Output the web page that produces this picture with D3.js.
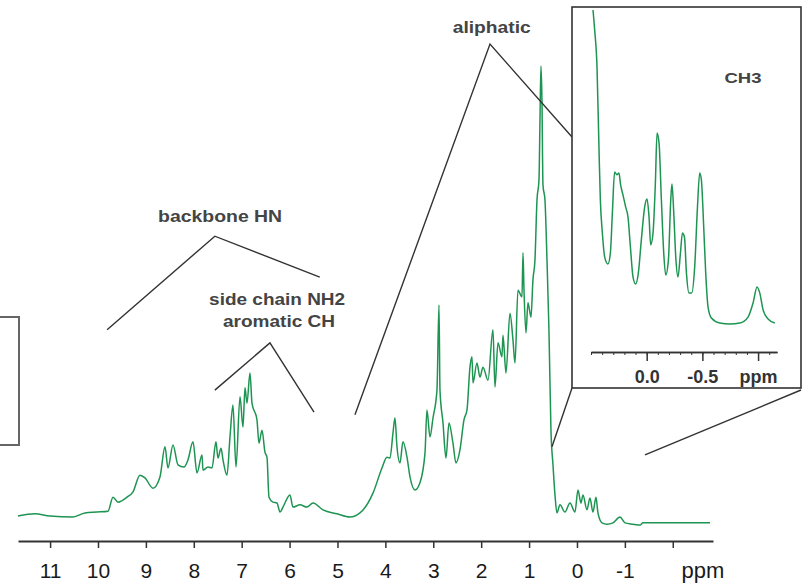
<!DOCTYPE html>
<html><head><meta charset="utf-8">
<script src="https://cdn.jsdelivr.net/npm/d3@7"></script>
<style>
html,body{margin:0;padding:0;background:#fff;}
svg{display:block;}
</style></head><body>
<svg id="chart" width="802" height="587"></svg>
<script>
// 1H NMR spectrum of a protein: chemical shift (ppm) vs. relative intensity
const mainPpm = [11.670,11.315,11.002,10.522,10.271,10.021,9.791,9.687,9.582,9.395,9.269,9.123,9.019,8.852,8.706,8.601,8.539,8.434,8.330,8.205,8.121,8.017,7.933,7.829,7.808,7.704,7.620,7.537,7.495,7.432,7.390,7.307,7.244,7.182,7.119,7.035,6.973,6.931,6.889,6.827,6.785,6.681,6.639,6.576,6.514,6.472,6.430,6.347,6.263,6.200,6.138,5.992,5.929,5.783,5.637,5.511,5.303,5.010,4.739,4.530,4.259,4.071,3.967,3.904,3.841,3.800,3.758,3.695,3.633,3.549,3.486,3.382,3.278,3.173,3.132,3.069,3.006,2.923,2.881,2.860,2.797,2.735,2.672,2.589,2.526,2.443,2.359,2.296,2.234,2.192,2.171,2.088,2.025,1.962,1.858,1.754,1.712,1.649,1.566,1.545,1.482,1.399,1.336,1.294,1.232,1.148,1.127,1.106,1.065,1.023,0.960,0.919,0.877,0.835,0.793,0.772,0.752,0.731,0.710,0.668,0.626,0.585,0.543,0.501,0.459,0.418,0.355,0.251,0.146,0.042,-0.021,-0.084,-0.125,-0.209,-0.271,-0.334,-0.397,-0.438,-0.522,-0.626,-0.752,-0.898,-1.002,-1.169,-1.315,-1.378,-2.777];
const mainIntensity = [0.2,0.7,0.2,0,0.9,1.1,1.3,4.4,3.3,4.4,5.6,9.3,8.7,6.4,8.9,15.6,10.9,16.0,11.6,11.1,12.7,16.7,9.8,13.8,10.4,11.1,10.9,16.7,13.1,15.3,12.7,9.3,17.8,24.9,11.1,26.7,20.0,28.7,25.3,32.0,25.3,21.6,16.4,19.3,14.4,13.3,4.4,3.3,3.1,1.1,2.2,4.9,2.2,2.7,2.2,3.1,1.6,0.7,0,0.9,5.3,10.9,13.3,13.1,18.7,22.0,15.6,12.0,16.7,13.3,8.9,6.0,7.6,14.2,23.8,17.8,22.0,28.2,47.1,28.2,20.9,13.1,20.9,16.4,12.0,14.9,21.6,23.8,33.3,35.6,29.8,34.2,31.1,33.3,30.4,41.6,28.9,38.7,35.6,40.4,32.0,45.3,39.3,34.2,50.4,48.9,58.7,50.4,40.9,47.6,44.4,52.7,57.1,70.4,74.9,88.2,100.2,92.7,73.8,70.4,57.1,41.6,19.3,11.6,4.9,0.9,2.7,1.1,3.1,1.1,6.0,3.1,4.9,1.6,4.2,1.1,4.4,0.9,-1.3,-1.6,-1.3,0,-1.3,-1.6,-1.8,-1.3,-1.3];

// expanded methyl region (inset)
const insetPpm = [0.482,0.467,0.446,0.428,0.416,0.398,0.377,0.348,0.326,0.308,0.288,0.267,0.249,0.234,0.213,0.189,0.168,0.146,0.123,0.099,0.075,0.048,0.018,-0.003,-0.021,-0.036,-0.057,-0.078,-0.093,-0.111,-0.132,-0.153,-0.171,-0.195,-0.216,-0.227,-0.243,-0.261,-0.281,-0.303,-0.321,-0.339,-0.357,-0.380,-0.404,-0.431,-0.456,-0.476,-0.491,-0.512,-0.530,-0.551,-0.581,-0.656,-0.746,-0.836,-0.910,-0.955,-0.991,-1.015,-1.045,-1.090,-1.150];
const insetIntensity = [100,93.6,81.8,55.4,39.5,29.0,21.3,19.1,22.6,35.4,48.4,47.5,48.1,44.3,41.1,37.3,34.1,24.5,15.0,12.7,16.2,26.8,37.3,39.8,34.1,25.2,29.0,44.9,60.8,57.6,39.5,22.6,15.6,20.4,39.5,44.6,35.4,21.3,15.0,22.6,29.0,27.7,16.2,9.9,9.9,18.2,37.3,48.1,45.9,30.9,16.2,5.4,1.9,0.3,0,0.3,2.2,6.7,11.8,9.9,4.5,1.6,0.3];

const axisTickValues = [11,10,9,8,7,6,5,4,3,2,1,0,-1,-2];
const axisTickLabels = ["11","10","9","8","7","6","5","4","3","2","1","0","-1",""];
const insetMajorTicks = [0,-0.5,-1];
const insetMajorLabels = ["0.0","-0.5","ppm"];
const insetMinorTicks = [0.5,0.4,0.3,0.2,0.1,0,-0.1,-0.2,-0.3,-0.4,-0.5,-0.6,-0.7,-0.8,-0.9,-1.0,-1.1];

// region labels, placed in spectrum coordinates (ppm, intensity)
const regionLabels = ["backbone HN","side chain NH2","aromatic CH","aliphatic"];
const regionLabelPpm = [7.45,6.26,6.22,1.78];
const regionLabelInt = [65.6,47.1,42.2,107.6];
const regionLabelWidth = [124,136,112,78];

// callout brackets: [left, apex, right] in (ppm, intensity)
const bracketBackbone = [[9.81,41.6],[7.56,62.4],[5.37,53.3]];
const bracketSideChain = [[7.56,28.2],[6.41,38.7],[5.49,23.3]];
const bracketAliphatic = [[4.635,22.7],[1.816,105.1]];

const svg = d3.select("#chart");
const green = "#1e9452";
const ink = "#333";
const font = "Liberation Sans, Arial, sans-serif";

const x = d3.scaleLinear().domain([11.67, -2.84]).range([18, 713]);
const y = d3.scaleLinear().domain([0, 100]).range([517, 67]);

// left frame fragment
svg.append("rect").attr("x", -10).attr("y", 317).attr("width", 29).attr("height", 128)
  .attr("fill", "none").attr("stroke", "#666").attr("stroke-width", 2);

// main spectrum
svg.append("path")
  .datum(mainPpm.map((p, i) => [p, mainIntensity[i]]))
  .attr("d", d3.line().x(d => x(d[0])).y(d => y(d[1])).curve(d3.curveMonotoneX))
  .attr("fill", "none").attr("stroke", green).attr("stroke-width", 1.5)
  .attr("stroke-linejoin", "round");

// main axis
const axisG = svg.append("g").attr("transform", "translate(0,541)")
  .call(d3.axisBottom(x).tickValues(axisTickValues)
    .tickFormat((d, i) => axisTickLabels[i]).tickSize(7).tickSizeOuter(0));
axisG.select(".domain").attr("stroke", ink).attr("stroke-width", 2);
axisG.selectAll(".tick line").attr("stroke", ink).attr("stroke-width", 1.5);
axisG.selectAll(".tick text").attr("y", 37).attr("dy", 0)
  .attr("font-family", font).attr("font-size", 21).attr("fill", "#1a1a1a");
svg.append("text").attr("x", 703).attr("y", 578).attr("text-anchor", "middle")
  .attr("font-family", font).attr("font-size", 22).attr("fill", "#1a1a1a").text("ppm");

// callouts
const bracketPath = d3.line().x(d => x(d[0])).y(d => y(d[1]));
[bracketBackbone, bracketSideChain].forEach(b => {
  svg.append("path").attr("d", bracketPath(b)).attr("fill", "none")
    .attr("stroke", ink).attr("stroke-width", 1.4);
});

// inset frame and its scales
const box = {x0: 572, y0: 7, x1: 801, y1: 388};
const ix = d3.scaleLinear().domain([0.5, -1.17]).range([591, 777]);
const iy = d3.scaleLinear().domain([0, 100]).range([324, 10]);

svg.append("path")
  .attr("d", bracketPath(bracketAliphatic) + "L" + box.x0 + "," + 137)
  .attr("fill", "none").attr("stroke", ink).attr("stroke-width", 1.4);

// zoom guides from inset corners down to the methyl region
svg.append("line").attr("x1", box.x0).attr("y1", box.y1)
  .attr("x2", x(0.522)).attr("y2", y(15.6)).attr("stroke", ink).attr("stroke-width", 1.4);
svg.append("line").attr("x1", box.x1).attr("y1", box.y1 + 2)
  .attr("x2", x(-1.42)).attr("y2", y(13.8)).attr("stroke", ink).attr("stroke-width", 1.4);

svg.append("rect").attr("x", box.x0).attr("y", box.y0)
  .attr("width", box.x1 - box.x0).attr("height", box.y1 - box.y0)
  .attr("fill", "#fff").attr("stroke", ink).attr("stroke-width", 1.6);

svg.append("path")
  .datum(insetPpm.map((p, i) => [p, insetIntensity[i]]))
  .attr("d", d3.line().x(d => ix(d[0])).y(d => iy(d[1])).curve(d3.curveMonotoneX))
  .attr("fill", "none").attr("stroke", green).attr("stroke-width", 1.5)
  .attr("stroke-linejoin", "round");

const minorG = svg.append("g").attr("transform", "translate(0,352)")
  .call(d3.axisBottom(ix).tickValues(insetMinorTicks).tickFormat("").tickSize(3).tickSizeOuter(0));
minorG.select(".domain").attr("stroke", ink).attr("stroke-width", 1.6);
minorG.selectAll(".tick line").attr("stroke", ink).attr("stroke-width", 1);
const majorG = svg.append("g").attr("transform", "translate(0,352)")
  .call(d3.axisBottom(ix).tickValues(insetMajorTicks)
    .tickFormat((d, i) => insetMajorLabels[i]).tickSize(9).tickSizeOuter(0));
majorG.select(".domain").attr("stroke", ink).attr("stroke-width", 1.6);
majorG.selectAll(".tick line").attr("stroke", ink).attr("stroke-width", 1.5);
majorG.selectAll(".tick text").attr("y", 31).attr("dy", 0)
  .attr("font-family", font).attr("font-size", 18)
  .attr("font-weight", "bold").attr("fill", "#333");

svg.append("text").attr("x", 743).attr("y", 83).attr("text-anchor", "middle")
  .attr("font-family", font).attr("font-size", 15)
  .attr("font-weight", "bold").attr("fill", "#444")
  .attr("textLength", 37).attr("lengthAdjust", "spacingAndGlyphs").text("CH3");

// region labels
regionLabels.forEach((t, i) => {
  const cx = x(regionLabelPpm[i]);
  svg.append("text")
    .attr("x", cx - regionLabelWidth[i] / 2).attr("y", y(regionLabelInt[i]))
    .attr("font-family", font).attr("font-size", 16)
    .attr("font-weight", "bold").attr("fill", "#444")
    .attr("textLength", regionLabelWidth[i]).attr("lengthAdjust", "spacingAndGlyphs")
    .text(t);
});
</script>
</body></html>
